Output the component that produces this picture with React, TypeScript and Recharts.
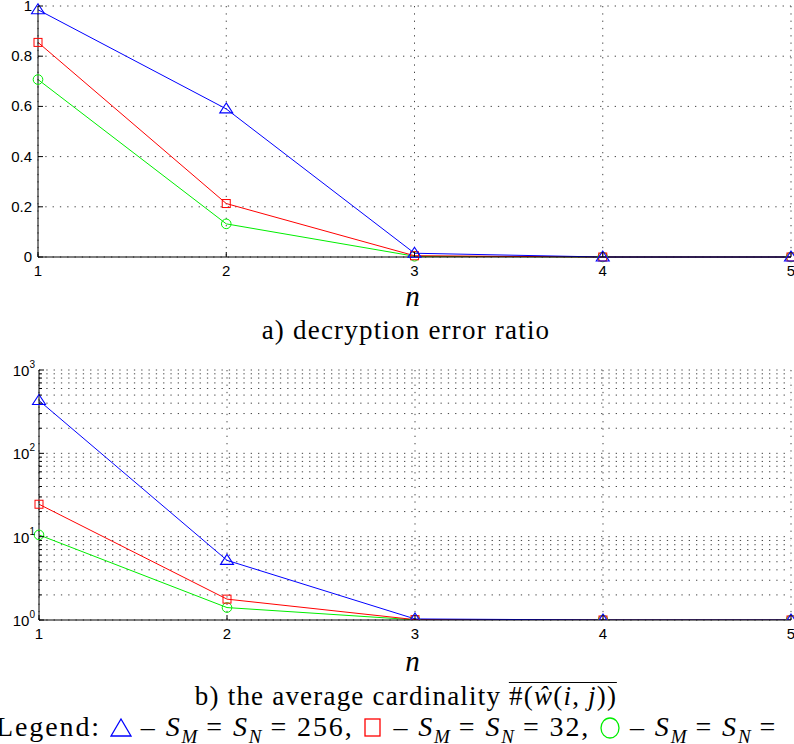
import React from 'react';
import { LineChart, Line, XAxis, YAxis, CartesianGrid } from 'recharts';

// rounds n
const nValues = [1, 2, 3, 4, 5];

// a) decryption error ratio
const errorS256 = [0.985, 0.59, 0.015, 0, 0];
const errorS32 = [0.855, 0.213, 0.005, 0, 0];
const errorSsmall = [0.707, 0.132, 0.003, 0, 0];

// b) average cardinality
const cardS256 = [430, 5.2, 1.03, 1, 1];
const cardS32 = [24.5, 1.78, 1.01, 1, 1];
const cardSsmall = [10.5, 1.41, 1.005, 1, 1];

const linearTicks = [0, 0.2, 0.4, 0.6, 0.8, 1];
const linearTickLabels = ['0', '0.2', '0.4', '0.6', '0.8', '1'];
const logTicks = [1, 2, 3, 4, 5, 6, 7, 8, 9, 10, 20, 30, 40, 50, 60, 70, 80, 90, 100, 200, 300, 400, 500, 600, 700, 800, 900, 1000];
const logMajor: Record<number, string> = { 1: '0', 10: '1', 100: '2', 1000: '3' };

const errorData = nValues.map((n, i) => ({ n, a: errorS256[i], b: errorS32[i], c: errorSsmall[i] }));
const cardData = nValues.map((n, i) => ({ n, a: cardS256[i], b: cardS32[i], c: cardSsmall[i] }));

const BLUE = '#0000ff';
const RED = '#ff0000';
const GREEN = '#00ee00';
const tickFont = '"Liberation Sans", Arial, sans-serif';
const serif = '"Liberation Serif", serif';

const Triangle = (props: any) => {
  const { cx, cy } = props;
  if (cx == null || cy == null) return null;
  return <path d={`M${cx},${cy - 6} L${cx + 6.5},${cy + 4} L${cx - 6.5},${cy + 4} Z`} fill="none" stroke={BLUE} strokeWidth={1.1} />;
};
const Square = (props: any) => {
  const { cx, cy } = props;
  if (cx == null || cy == null) return null;
  return <rect x={cx - 4} y={cy - 4} width={8} height={8} fill="none" stroke={RED} strokeWidth={1} />;
};
const Circle = (props: any) => {
  const { cx, cy } = props;
  if (cx == null || cy == null) return null;
  return <circle cx={cx} cy={cy} r={4.8} fill="none" stroke={GREEN} strokeWidth={1} />;
};

const XTick = (props: any) => {
  const { x, y, payload } = props;
  return (
    <g>
      <line x1={x} x2={x} y1={y} y2={y - 5} stroke="#000" />
      <text x={x} y={y + 19} textAnchor="middle" fontSize={15} fontFamily={tickFont} fill="#000">
        {payload.value}
      </text>
    </g>
  );
};

const TopTick = (props: any) => {
  const { x, y } = props;
  return <line x1={x} x2={x} y1={y} y2={y + 5} stroke="#000" />;
};

const LinYTick = (props: any) => {
  const { x, y, payload } = props;
  const idx = linearTicks.indexOf(payload.value);
  return (
    <g>
      <line x1={x} x2={x + 5} y1={y} y2={y} stroke="#000" />
      <text x={x - 6} y={y + 5} textAnchor="end" fontSize={15} fontFamily={tickFont} fill="#000">
        {idx >= 0 ? linearTickLabels[idx] : payload.value}
      </text>
    </g>
  );
};

const RightTick = (props: any) => {
  const { x, y, payload } = props;
  const len = logMajor[payload.value] !== undefined || linearTicks.includes(payload.value) ? 5 : 3;
  return <line x1={x} x2={x - len} y1={y} y2={y} stroke="#000" />;
};

const LogYTick = (props: any) => {
  const { x, y, payload } = props;
  const major = logMajor[payload.value];
  return (
    <g>
      <line x1={x} x2={x + (major ? 5 : 3)} y1={y} y2={y} stroke="#000" />
      {major !== undefined && (
        <text x={x - 4} y={y + 6} textAnchor="end" fontSize={15} fontFamily={tickFont} fill="#000">
          10
          <tspan dy={-8} fontSize={10}>{major}</tspan>
        </text>
      )}
    </g>
  );
};

const gridStroke = '#444';
const gridDash = '1.3 6';

const sub = { fontSize: 19, fontStyle: 'italic' as const, letterSpacing: 0 };
const text = { fontFamily: serif, fontSize: 27, letterSpacing: 1.2, whiteSpace: 'nowrap' as const, lineHeight: '30px' };

const LegendMark = ({ kind }: { kind: 'tri' | 'sq' | 'circ' }) => (
  <svg width={22} height={22} style={{ display: 'inline-block', verticalAlign: '-3px' }}>
    {kind === 'tri' && <path d="M11,2 L21,19 L1,19 Z" fill="none" stroke={BLUE} strokeWidth={1.3} />}
    {kind === 'sq' && <rect x={3} y={2} width={15} height={17} fill="none" stroke={RED} strokeWidth={1.3} />}
    {kind === 'circ' && <ellipse cx={11} cy={11} rx={9} ry={10} fill="none" stroke={GREEN} strokeWidth={1.3} />}
  </svg>
);

export default function App() {
  return (
    <div style={{ position: 'absolute', left: 0, top: 0, width: 794, height: 744, overflow: 'hidden', background: '#fff' }}>
      <div style={{ position: 'absolute', left: 0, top: 0 }}>
        <LineChart width={794} height={280} data={errorData} margin={{ top: 6, right: 3, bottom: 0, left: 0 }}>
          <CartesianGrid stroke={gridStroke} strokeDasharray={gridDash} />
          <XAxis dataKey="n" type="number" domain={[1, 5]} ticks={nValues} interval={0} height={23} tickSize={0} tickMargin={0} tickLine={false} axisLine={{ stroke: '#000' }} tick={<XTick />} />
          <YAxis type="number" domain={[0, 1]} ticks={linearTicks} interval={0} width={38} tickSize={0} tickMargin={0} tickLine={false} axisLine={{ stroke: '#000' }} tick={<LinYTick />} />
          <XAxis xAxisId="top" orientation="top" dataKey="n" type="number" domain={[1, 5]} ticks={nValues} interval={0} height={0} tickSize={0} tickMargin={0} tickLine={false} axisLine={{ stroke: '#000' }} tick={<TopTick />} />
          <YAxis yAxisId="right" orientation="right" type="number" domain={[0, 1]} ticks={linearTicks} interval={0} width={0} tickSize={0} tickMargin={0} tickLine={false} axisLine={{ stroke: '#000' }} tick={<RightTick />} />
          <Line type="linear" dataKey="c" stroke={GREEN} strokeWidth={1} dot={<Circle />} isAnimationActive={false} />
          <Line type="linear" dataKey="b" stroke={RED} strokeWidth={1} dot={<Square />} isAnimationActive={false} />
          <Line type="linear" dataKey="a" stroke={BLUE} strokeWidth={1} dot={<Triangle />} isAnimationActive={false} />
        </LineChart>
      </div>

      <div style={{ ...text, position: 'absolute', left: 413, top: 281, transform: 'translateX(-50%)', fontStyle: 'italic', fontSize: 29 }}>n</div>
      <div style={{ ...text, position: 'absolute', left: 406, top: 315, transform: 'translateX(-50%)' }}>
        a) decryption error ratio
      </div>

      <div style={{ position: 'absolute', left: 0, top: 360 }}>
        <LineChart width={794} height={290} data={cardData} margin={{ top: 10, right: 3, bottom: 0, left: 0 }}>
          <CartesianGrid stroke={gridStroke} strokeDasharray={gridDash} />
          <XAxis dataKey="n" type="number" domain={[1, 5]} ticks={nValues} interval={0} height={30} tickSize={0} tickMargin={0} tickLine={false} axisLine={{ stroke: '#000' }} tick={<XTick />} />
          <YAxis type="number" scale="log" domain={[1, 1000]} ticks={logTicks} interval={0} allowDataOverflow width={39} tickSize={0} tickMargin={0} tickLine={false} axisLine={{ stroke: '#000' }} tick={<LogYTick />} />
          <XAxis xAxisId="top" orientation="top" dataKey="n" type="number" domain={[1, 5]} ticks={nValues} interval={0} height={0} tickSize={0} tickMargin={0} tickLine={false} axisLine={{ stroke: '#000' }} tick={<TopTick />} />
          <YAxis yAxisId="right" orientation="right" type="number" scale="log" domain={[1, 1000]} ticks={logTicks} interval={0} allowDataOverflow width={0} tickSize={0} tickMargin={0} tickLine={false} axisLine={{ stroke: '#000' }} tick={<RightTick />} />
          <Line type="linear" dataKey="c" stroke={GREEN} strokeWidth={1} dot={<Circle />} isAnimationActive={false} />
          <Line type="linear" dataKey="b" stroke={RED} strokeWidth={1} dot={<Square />} isAnimationActive={false} />
          <Line type="linear" dataKey="a" stroke={BLUE} strokeWidth={1} dot={<Triangle />} isAnimationActive={false} />
        </LineChart>
      </div>

      <div style={{ ...text, position: 'absolute', left: 413, top: 646, transform: 'translateX(-50%)', fontStyle: 'italic', fontSize: 29 }}>n</div>
      <div style={{ ...text, position: 'absolute', left: 406, top: 681, transform: 'translateX(-50%)' }}>
        b) the average cardinality{' '}
        <span style={{ display: 'inline-block', borderTop: '1.5px solid #000', lineHeight: '27px' }}>
          #(<i>ŵ</i>(<i>i</i>, <i>j</i>))
        </span>
      </div>

      <div style={{ ...text, position: 'absolute', left: -4, top: 712, lineHeight: '30px', fontSize: 28, letterSpacing: 1.9 }}>
        Legend: <LegendMark kind="tri" /> – <i>S</i><sub style={sub}>M</sub> = <i>S</i><sub style={sub}>N</sub> = 256,{' '}
        <LegendMark kind="sq" /> – <i>S</i><sub style={sub}>M</sub> = <i>S</i><sub style={sub}>N</sub> = 32,{' '}
        <LegendMark kind="circ" /> – <i>S</i><sub style={sub}>M</sub> = <i>S</i><sub style={sub}>N</sub> =
      </div>
    </div>
  );
}
